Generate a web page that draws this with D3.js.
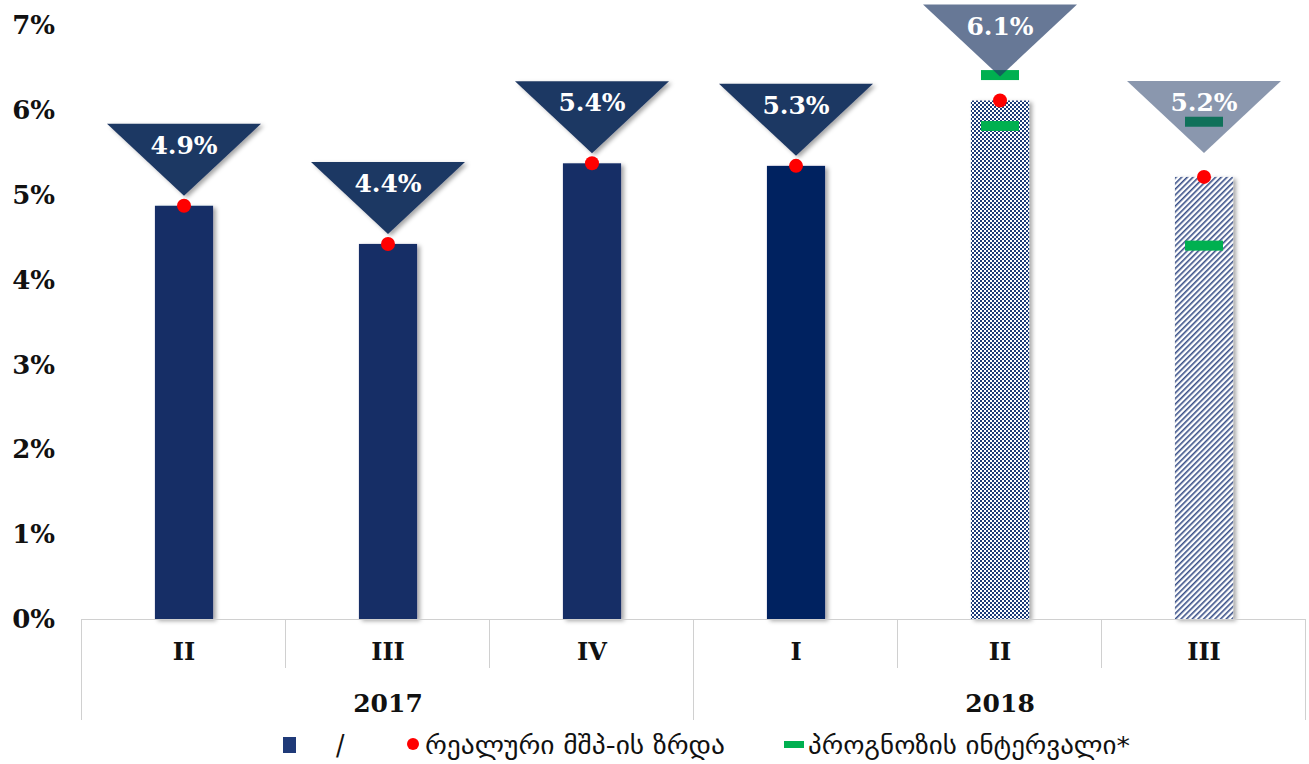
<!DOCTYPE html>
<html>
<head>
<meta charset="utf-8">
<script src="https://cdn.jsdelivr.net/npm/d3@7"></script>
<style>
  body { margin: 0; background: #fff; }
  svg text { font-family: "DejaVu Serif", "Liberation Serif", serif; font-weight: bold; }
  .geo { font-family: "DejaVu Sans Condensed", "DejaVu Sans", sans-serif; font-weight: normal; }
</style>
</head>
<body>
<div id="chart"></div>
<script>
// quarters and years
const quarters = ["II", "III", "IV", "I", "II", "III"];
const yearLabels = ["2017", "2018"];
const yearSpans = [3, 3];

// real GDP growth, %
const growth = [4.87, 4.42, 5.37, 5.34, 6.11, 5.21];
// forecast interval (only 2018 II, III)
const forecastLow = [null, null, null, null, 5.81, 4.40];
const forecastHigh = [null, null, null, null, 6.41, 5.86];

const yTicks = [0, 1, 2, 3, 4, 5, 6, 7];
const legendLabels = ["/", "რეალური მშპ-ის ზრდა", "პროგნოზის ინტერვალი*"];

const width = 1309, height = 764;
const margin = {top: 25, right: 3, bottom: 145, left: 82};

const svg = d3.select("#chart").append("svg")
  .attr("width", width).attr("height", height);

const defs = svg.append("defs");
defs.append("filter").attr("id", "shadow")
  .attr("x", "-20%").attr("y", "-10%").attr("width", "150%").attr("height", "130%")
  .append("feDropShadow")
  .attr("dx", 3).attr("dy", 2).attr("stdDeviation", 2)
  .attr("flood-color", "#000").attr("flood-opacity", 0.35);

// checker pattern for 2018 II
const chk = defs.append("pattern").attr("id", "checker")
  .attr("width", 4).attr("height", 4).attr("patternUnits", "userSpaceOnUse");
chk.append("rect").attr("width", 4).attr("height", 4).attr("fill", "#fff");
chk.append("rect").attr("width", 2).attr("height", 2).attr("fill", "#1f3a78");
chk.append("rect").attr("x", 2).attr("y", 2).attr("width", 2).attr("height", 2).attr("fill", "#1f3a78");

// diagonal stripes for 2018 III
const str = defs.append("pattern").attr("id", "stripes")
  .attr("width", 4).attr("height", 4).attr("patternUnits", "userSpaceOnUse")
  .attr("patternTransform", "rotate(45)");
str.append("rect").attr("width", 4).attr("height", 4).attr("fill", "#fff");
str.append("rect").attr("width", 1.6).attr("height", 4).attr("fill", "#3a5088");

const x = d3.scaleBand()
  .domain(d3.range(quarters.length))
  .range([margin.left, width - margin.right])
  .paddingInner(0).paddingOuter(0);

const y = d3.scaleLinear()
  .domain([0, 7])
  .range([height - margin.bottom, margin.top]);

const barW = x.bandwidth() * 0.285;
const barFill = ["#132d66", "#132d66", "#132d66", "#002060", "url(#checker)", "url(#stripes)"];
const triOpacity = [1, 1, 1, 1, 0.68, 0.52];

// y axis labels
svg.append("g").selectAll("text")
  .data(yTicks).enter().append("text")
  .attr("x", 55)
  .attr("y", d => y(d))
  .attr("dy", "0.35em")
  .attr("text-anchor", "end")
  .attr("font-size", 26)
  .attr("fill", "#111")
  .text(d => d + "%");

// bars
svg.append("g").selectAll("rect")
  .data(growth).enter().append("rect")
  .attr("x", (d, i) => x(i) + x.bandwidth() / 2 - barW / 2)
  .attr("y", d => y(d))
  .attr("width", barW)
  .attr("height", d => y(0) - y(d))
  .attr("fill", (d, i) => barFill[i])
  .attr("filter", "url(#shadow)");

// forecast interval marks
const fW = 38, fH = 10;
const marks = [];
growth.forEach((d, i) => {
  if (forecastLow[i] !== null) marks.push([forecastLow[i], i]);
  if (forecastHigh[i] !== null) marks.push([forecastHigh[i], i]);
});
svg.append("g").selectAll("rect")
  .data(marks).enter().append("rect")
  .attr("x", d => x(d[1]) + x.bandwidth() / 2 - fW / 2)
  .attr("y", d => y(d[0]) - fH / 2)
  .attr("width", fW).attr("height", fH)
  .attr("fill", "#00b050");

// red dots
svg.append("g").selectAll("circle")
  .data(growth).enter().append("circle")
  .attr("cx", (d, i) => x(i) + x.bandwidth() / 2)
  .attr("cy", d => y(d))
  .attr("r", 7)
  .attr("fill", "#ff0000");

// triangles with labels (forecast quarters sit higher, above the interval)
const triW = 154, triH = 72;
const tri = svg.append("g").selectAll("g")
  .data(growth).enter().append("g")
  .attr("transform", (d, i) => {
    const gap = forecastHigh[i] !== null ? 24 : 10;
    return `translate(${x(i) + x.bandwidth() / 2},${y(d) - gap})`;
  });
tri.append("path")
  .attr("d", `M0,0 L${-triW / 2},${-triH} L${triW / 2},${-triH} Z`)
  .attr("fill", "#1f3864")
  .attr("fill-opacity", (d, i) => triOpacity[i])
  .attr("filter", (d, i) => triOpacity[i] === 1 ? "url(#shadow)" : null);
tri.append("text")
  .attr("y", -triH + 30)
  .attr("text-anchor", "middle")
  .attr("font-size", 25)
  .attr("fill", "#fff")
  .text(d => d3.format(".1f")(d) + "%");

// category table
const y0 = y(0), rowQ = 49, rowY = 101;
const grid = svg.append("g").attr("stroke", "#d0d0d0").attr("stroke-width", 1);
grid.append("line").attr("x1", margin.left).attr("x2", width - margin.right)
  .attr("y1", y0 + 0.5).attr("y2", y0 + 0.5);
let cum = 0;
const yearEdges = [0];
yearSpans.forEach(s => { cum += s; yearEdges.push(cum); });
grid.selectAll("line.q")
  .data(d3.range(quarters.length + 1)).enter().append("line")
  .attr("x1", i => Math.round(i < quarters.length ? x(i) : x.range()[1]) - 0.5)
  .attr("x2", i => Math.round(i < quarters.length ? x(i) : x.range()[1]) - 0.5)
  .attr("y1", y0)
  .attr("y2", i => yearEdges.includes(i) ? y0 + rowY : y0 + rowQ);

svg.append("g").selectAll("text")
  .data(quarters).enter().append("text")
  .attr("x", (d, i) => x(i) + x.bandwidth() / 2)
  .attr("y", y0 + 41)
  .attr("text-anchor", "middle")
  .attr("font-size", 24)
  .attr("fill", "#111")
  .text(d => d);

svg.append("g").selectAll("text")
  .data(yearLabels).enter().append("text")
  .attr("x", (d, i) => (x(yearEdges[i]) + (yearEdges[i + 1] < quarters.length ? x(yearEdges[i + 1]) : x.range()[1])) / 2)
  .attr("y", y0 + 93)
  .attr("text-anchor", "middle")
  .attr("font-size", 25)
  .attr("fill", "#111")
  .text(d => d);

// legend
const leg = svg.append("g").attr("transform", "translate(0,745)");
leg.append("rect").attr("x", 283).attr("y", -8).attr("width", 13).attr("height", 16).attr("fill", "#1f3a78");
leg.append("text").attr("class", "geo").attr("x", 336).attr("y", 0).attr("dy", "0.35em")
  .attr("font-size", 28).attr("fill", "#111").text(legendLabels[0]);
leg.append("circle").attr("cx", 413).attr("cy", -1).attr("r", 6).attr("fill", "#ff0000");
leg.append("text").attr("class", "geo").attr("x", 425).attr("y", 0).attr("dy", "0.35em")
  .attr("font-size", 25).attr("fill", "#111")
  .attr("textLength", 300).attr("lengthAdjust", "spacingAndGlyphs").text(legendLabels[1]);
leg.append("rect").attr("x", 784).attr("y", -4).attr("width", 20).attr("height", 7).attr("fill", "#00b050");
leg.append("text").attr("class", "geo").attr("x", 808).attr("y", 0).attr("dy", "0.35em")
  .attr("font-size", 25).attr("fill", "#111")
  .attr("textLength", 322).attr("lengthAdjust", "spacingAndGlyphs").text(legendLabels[2]);
</script>
</body>
</html>
